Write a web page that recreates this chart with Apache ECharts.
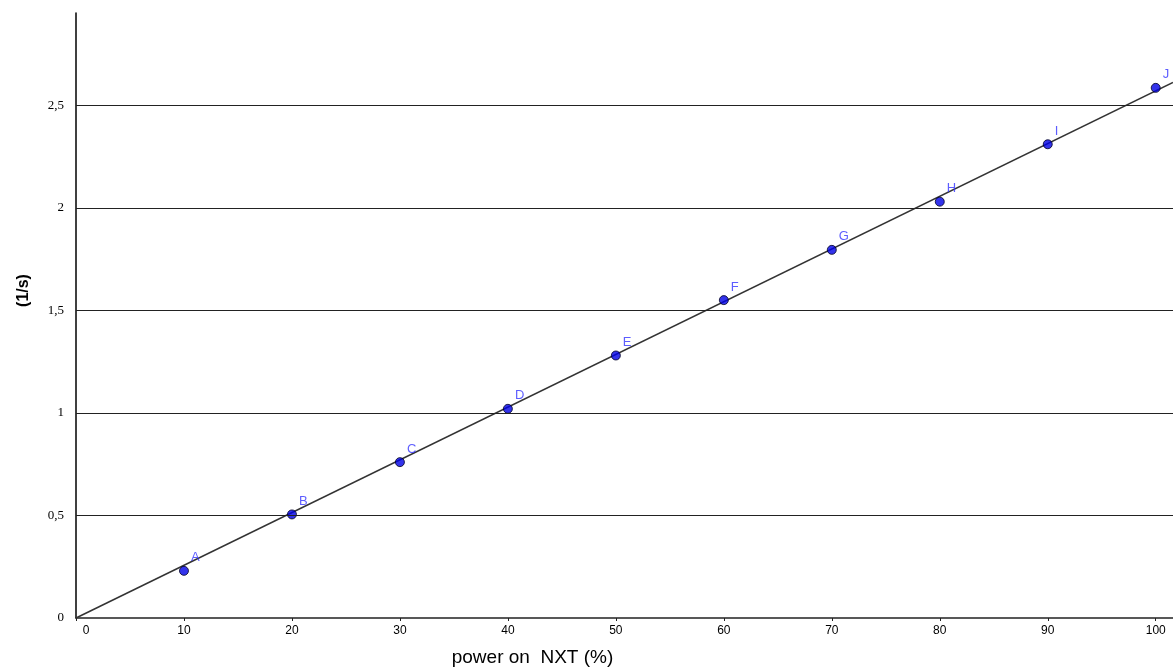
<!DOCTYPE html>
<html>
<head>
<meta charset="utf-8">
<style>
  html, body { margin: 0; padding: 0; background: #fff; }
  #chart { width: 1173px; height: 669px; }
</style>
<script src="https://cdn.jsdelivr.net/npm/echarts@6/dist/echarts.min.js"></script>
</head>
<body>
<div id="chart"></div>
<script>
// measured points (power %, 1/s)
const pointNames = ["A", "B", "C", "D", "E", "F", "G", "H", "I", "J"];
const powerValues = [10, 20, 30, 40, 50, 60, 70, 80, 90, 100];
const rateValues = [0.23, 0.505, 0.76, 1.02, 1.28, 1.55, 1.795, 2.03, 2.31, 2.585];

// fitted line, read at both ends of the view
const fitX = [0, 101.6];
const fitY = [0, 2.612];

// horizontal reference lines
const gridValues = [0.5, 1, 1.5, 2, 2.5];

const chart = echarts.init(document.getElementById("chart"));

const option = {
  animation: false,
  backgroundColor: "#fff",
  grid: { left: 76, right: 0, top: 13, bottom: 51, containLabel: false, outerBoundsMode: "none" },
  xAxis: {
    type: "value",
    min: 0,
    max: 101.6,
    interval: 10,
    name: "power on  NXT (%)",
    nameLocation: "middle",
    nameGap: 30,
    nameTextStyle: {
      fontFamily: "Liberation Sans",
      fontSize: 19,
      color: "#000",
      padding: [0, 184, 0, 0]
    },
    axisLine: { show: true, onZero: false, lineStyle: { color: "#222", width: 1.5 } },
    axisTick: { show: true, length: 3, lineStyle: { color: "#222" } },
    splitLine: { show: false },
    axisLabel: {
      showMaxLabel: false,
      margin: 7,
      color: "#000",
      fontFamily: "Liberation Sans",
      fontSize: 12,
      formatter: (v) => (v === 0 ? "{z|0}" : String(v)),
      rich: { z: { padding: [0, 0, 0, 20], fontSize: 12, fontFamily: "Liberation Sans", color: "#000" } }
    }
  },
  yAxis: {
    type: "value",
    min: 0,
    max: 2.95,
    interval: 0.5,
    name: "(1/s)",
    nameLocation: "middle",
    nameRotate: 90,
    nameGap: 44,
    nameTextStyle: {
      fontFamily: "Liberation Sans",
      fontWeight: "bold",
      fontSize: 16,
      color: "#000",
      padding: [0, 0, 0, 50]
    },
    axisLine: { show: true, lineStyle: { color: "#000", width: 1.5 } },
    axisTick: { show: false },
    splitLine: { show: false },
    axisLabel: {
      showMaxLabel: false,
      margin: 12,
      color: "#000",
      fontFamily: "Liberation Serif",
      fontSize: 13,
      formatter: (v) => String(v).replace(".", ",")
    }
  },
  series: [
    {
      type: "line",
      data: fitX.map((x, i) => [x, fitY[i]]),
      symbol: "none",
      silent: true,
      z: 2,
      lineStyle: { color: "#333", width: 1.5 },
      markLine: {
        silent: true,
        symbol: "none",
        label: { show: false },
        lineStyle: { color: "#222", type: "solid", width: 1.2 },
        data: gridValues.map((v) => ({ yAxis: v }))
      }
    },
    {
      type: "scatter",
      z: 3,
      symbolSize: 9,
      data: powerValues.map((x, i) => ({ value: [x, rateValues[i]], name: pointNames[i] })),
      itemStyle: { color: "#0000e6", borderColor: "#000022", borderWidth: 1 },
      label: {
        show: true,
        formatter: (p) => p.name,
        position: "right",
        offset: [-3, -13],
        color: "#3535ff",
        fontFamily: "Liberation Sans",
        fontSize: 13
      }
    }
  ]
};

chart.setOption(option);
window.addEventListener("resize", () => chart.resize());
</script>
</body>
</html>
